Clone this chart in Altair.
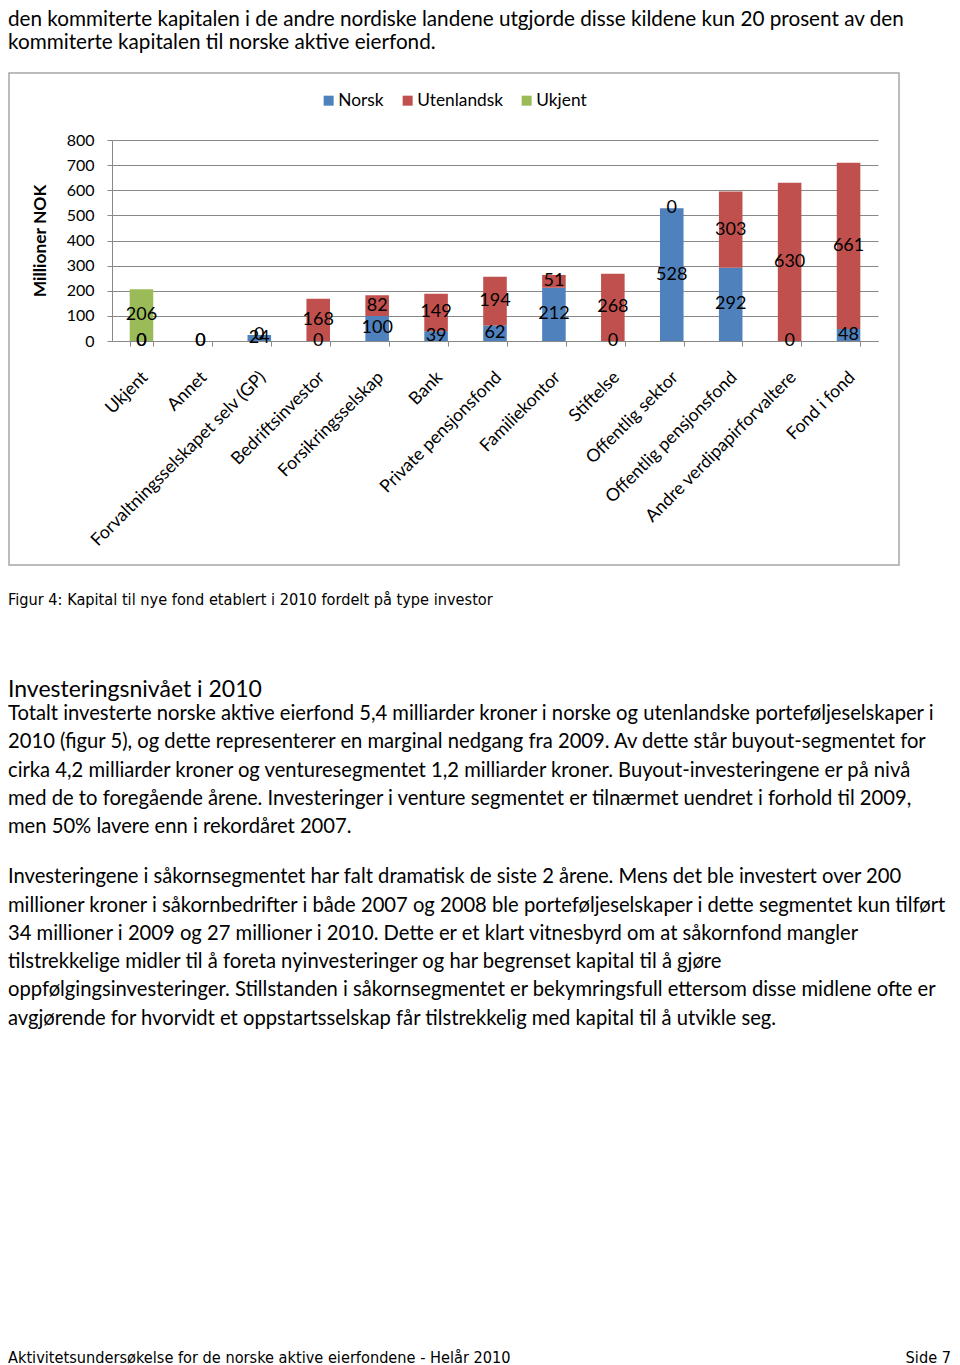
import altair as alt
import pandas as pd

categories = ["Ukjent", "Annet", "Forvaltningsselskapet selv (GP)", "Bedriftsinvestor",
              "Forsikringsselskap", "Bank", "Private pensjonsfond", "Familiekontor",
              "Stiftelse", "Offentlig sektor", "Offentlig pensjonsfond",
              "Andre verdipapirforvaltere", "Fond i fond"]
norsk = [0, 0, 24, 0, 100, 39, 62, 212, 0, 528, 292, 0, 48]
utenlandsk = [0, 0, 0, 168, 82, 149, 194, 51, 268, 0, 303, 630, 661]
ukjent = [206, None, None, None, None, None, None, None, None, None, None, None, None]
series = ["Norsk", "Utenlandsk", "Ukjent"]
colors = ["#4F81BD", "#C0504D", "#9BBB59"]
y_ticks = [0, 100, 200, 300, 400, 500, 600, 700, 800]
y_title = "Millioner NOK"

top_lines = ["den kommiterte kapitalen i de andre nordiske landene utgjorde disse kildene kun 20 prosent av den",
             "kommiterte kapitalen til norske aktive eierfond."]
caption = "Figur 4: Kapital til nye fond etablert i 2010 fordelt på type investor"
heading = "Investeringsnivået i 2010"
para1 = ["Totalt investerte norske aktive eierfond 5,4 milliarder kroner i norske og utenlandske porteføljeselskaper i",
         "2010 (figur 5), og dette representerer en marginal nedgang fra 2009.  Av dette står buyout-segmentet for",
         "cirka 4,2 milliarder kroner og venturesegmentet 1,2 milliarder kroner. Buyout-investeringene er på nivå",
         "med de to foregående årene. Investeringer i venture segmentet er tilnærmet uendret i forhold til 2009,",
         "men 50% lavere enn i rekordåret 2007."]
para2 = [" Investeringene i såkornsegmentet har falt dramatisk de siste 2 årene. Mens det ble investert over 200",
         "millioner kroner i såkornbedrifter i både 2007 og 2008 ble porteføljeselskaper i dette segmentet kun tilført",
         "34 millioner i 2009 og 27 millioner i 2010. Dette er et klart vitnesbyrd om at såkornfond mangler",
         "tilstrekkelige midler til å foreta nyinvesteringer og har begrenset kapital til å gjøre",
         "oppfølgingsinvesteringer. Stillstanden i såkornsegmentet er bekymringsfull ettersom disse midlene ofte er",
         "avgjørende for hvorvidt et oppstartsselskap får tilstrekkelig med kapital til å utvikle seg."]
footer_left = "Aktivitetsundersøkelse for de norske aktive eierfondene -  Helår 2010"
footer_right = "Side 7"

rows = []
for i, c in enumerate(categories):
    for s, vals in zip(series, [norsk, utenlandsk, ukjent]):
        if vals[i] is not None:
            rows.append({"cat": c, "series": s, "ord": series.index(s), "value": vals[i]})
df = pd.DataFrame(rows)

OX, OY = 112, 140  # plot origin on the page
W, H = 766, 201

FONT = "Lato"
NARROW = "Liberation Sans Narrow, DejaVu Sans Condensed, sans-serif"

base = alt.Chart(df).transform_stack(
    stack="value", groupby=["cat"], as_=["v0", "v1"],
    sort=[alt.SortField("ord", order="ascending")]
).transform_calculate(mid="(datum.v0 + datum.v1) / 2")

xscale = alt.Scale(paddingInner=0.6, paddingOuter=0.3)
yscale = alt.Scale(domain=[0, 800], nice=False)

xaxis = alt.Axis(title=None, labelAngle=-45, labelAlign="right", labelBaseline="top",
                 labelOffset=-3, labelPadding=22, tickSize=5, tickBand="extent",
                 domainColor="#888888", tickColor="#888888", labelFont=FONT,
                 labelFontSize=17.7, labelColor="black", labelLimit=400,
                 labelOverlap=False, grid=False)
yaxis = alt.Axis(values=y_ticks, title=y_title, titleFont=FONT, titleFontSize=17.4,
                 titleFontWeight="bold", titleColor="black", titleX=-72, titleY=H / 2,
                 titleAngle=-90, titleBaseline="middle", titleAlign="center",
                 labelFont=FONT, labelFontSize=16, labelColor="black", labelPadding=13,
                 labelOverlap=False, tickSize=5, grid=True, gridColor="#888888",
                 domainColor="#888888", tickColor="#888888")

bars = base.mark_bar().encode(
    x=alt.X("cat:N", sort=categories, scale=xscale, axis=xaxis),
    y=alt.Y("v0:Q", scale=yscale, axis=yaxis),
    y2="v1:Q",
    color=alt.Color("series:N", scale=alt.Scale(domain=series, range=colors),
                    legend=alt.Legend(orient="none", legendX=208, legendY=-48,
                                      direction="horizontal", title=None, symbolType="square",
                                      symbolSize=100, symbolStrokeWidth=0, labelFont=FONT,
                                      labelFontSize=17.3, labelColor="black", labelOffset=1,
                                      columnPadding=15, padding=0)),
)

labels = base.mark_text(font=FONT, fontSize=18, color="black", baseline="middle").encode(
    x=alt.X("cat:N", sort=categories, scale=xscale, axis=xaxis),
    y=alt.Y("mid:Q", scale=yscale, axis=yaxis),
    text=alt.Text("value:Q", format="d"),
)

frame = alt.Chart(pd.DataFrame({"a": [0]})).mark_rect(
    fill="transparent", stroke="#a6a6a6", strokeWidth=1.5
).encode(x=alt.value(9 - OX), x2=alt.value(899 - OX), y=alt.value(73 - OY), y2=alt.value(565 - OY))


def block(lines, x, y, size, font=FONT, align="left", weight="normal", lh=28.3):
    return alt.Chart(pd.DataFrame({"t": ["\n".join(lines)]})).mark_text(
        align=align, baseline="alphabetic", font=font, fontSize=size, fontWeight=weight,
        lineBreak="\n", lineHeight=lh, color="black"
    ).encode(x=alt.value(x - OX), y=alt.value(y - OY), text="t:N")


texts = [
    block(top_lines, 8, 26, 20.7, lh=22.5),
    block([caption], 8, 604.5, 16.2, font=NARROW),
    block([heading], 8, 696.7, 23),
    block(para1, 8, 720, 20.2),
    block(para2, 8, 883.3, 20.2),
    block([footer_left], 8, 1363, 16.2, font=NARROW),
    block([footer_right], 951, 1363, 16.2, font=NARROW, align="right"),
]

chart = alt.layer(frame, bars, labels, *texts).properties(
    width=W, height=H,
    autosize=alt.AutoSizeParams(type="none"),
    padding={"left": OX - 8, "top": OY - 8, "right": 944 - (OX - 8) - W, "bottom": 1358 - (OY - 8) - H},
).configure_view(strokeWidth=0)

chart.save("out.html", embed_options={"renderer": "svg", "actions": False})
